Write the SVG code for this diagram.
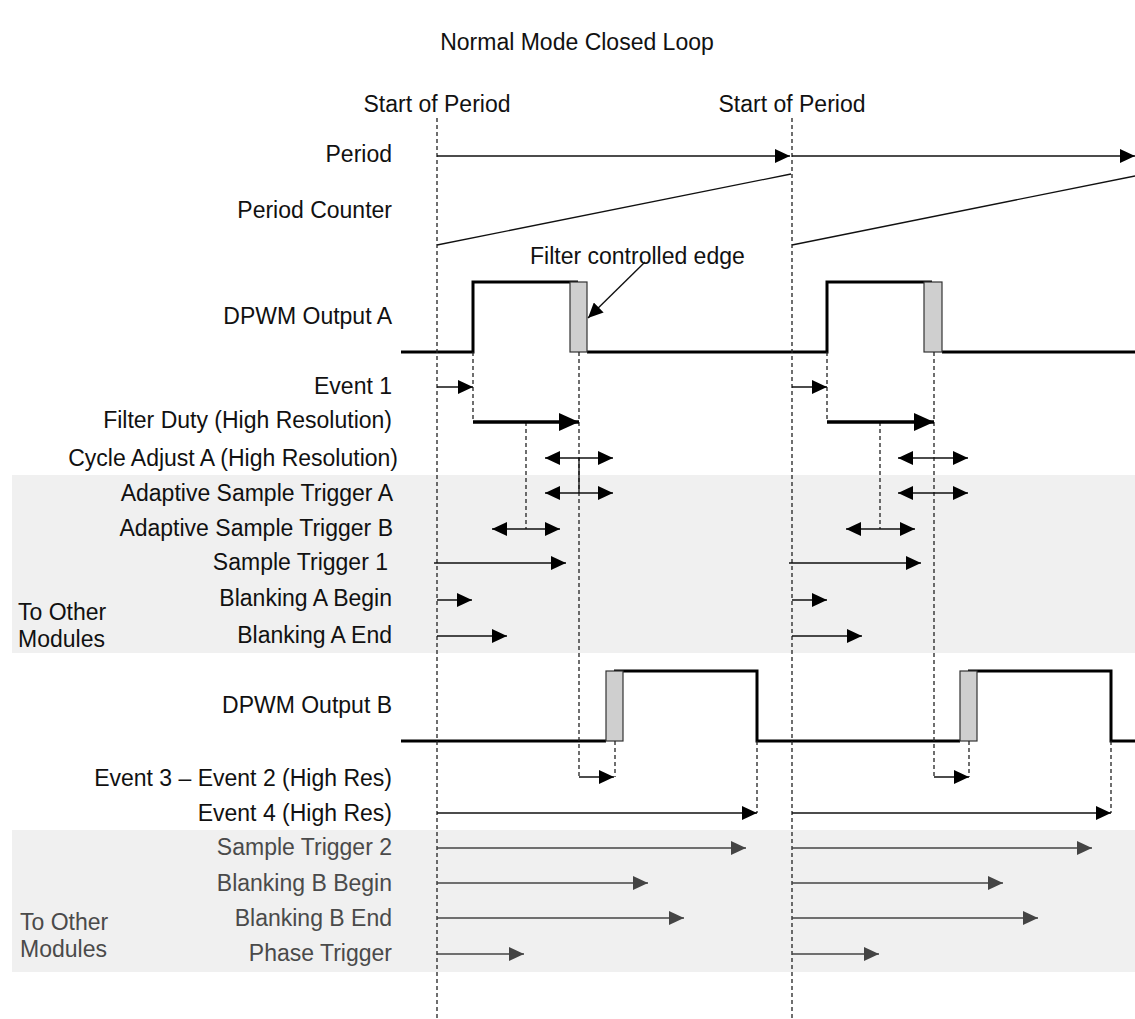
<svg xmlns="http://www.w3.org/2000/svg" width="1135" height="1019" viewBox="0 0 1135 1019">
<style>
text{font-family:"Liberation Sans",Arial,sans-serif;font-size:23px;fill:#111}
.r{text-anchor:end}
.g{fill:#4a4a4a}
.band{fill:#f0f0f0}
.dash{stroke:#222;stroke-width:1.3;stroke-dasharray:4 3;fill:none}
.thin{stroke:#111;stroke-width:1.3;fill:none}
.arr{stroke:#111;stroke-width:1.4;fill:none;marker-end:url(#ah)}
.dbl{stroke:#111;stroke-width:1.4;fill:none;marker-end:url(#ah);marker-start:url(#ah)}
.thick{stroke:#000;stroke-width:3.5;fill:none;marker-end:url(#ahb)}
.garr{stroke:#444;stroke-width:1.4;fill:none;marker-end:url(#ahg)}
.wave{stroke:#000;stroke-width:3;fill:none}
.edge{fill:#cfcfcf;stroke:#333;stroke-width:1.2}
</style>
<defs>
<marker id="ah" markerUnits="userSpaceOnUse" markerWidth="15" markerHeight="14" refX="15" refY="7" orient="auto-start-reverse"><path d="M0,0 L15,7 L0,14 z" fill="#000"/></marker>
<marker id="ahb" markerUnits="userSpaceOnUse" markerWidth="20" markerHeight="18" refX="20" refY="9" orient="auto"><path d="M0,0 L20,9 L0,18 z" fill="#000"/></marker>
<marker id="ahg" markerUnits="userSpaceOnUse" markerWidth="15" markerHeight="14" refX="15" refY="7" orient="auto"><path d="M0,0 L15,7 L0,14 z" fill="#444"/></marker>
</defs>
<rect width="1135" height="1019" fill="#fff"/>
<g id="bands">
<rect class="band" x="12" y="475" width="1123" height="178"/>
<rect class="band" x="12" y="830" width="1123" height="142"/>
</g>
<g id="title"><text x="577" y="50" text-anchor="middle">Normal Mode Closed Loop</text></g>
<g id="start-of-period">
<text x="437" y="112" text-anchor="middle">Start of Period</text>
<text x="792" y="112" text-anchor="middle">Start of Period</text>
</g>
<g id="labels">
<text class="r" x="392" y="162">Period</text>
<text class="r" x="392" y="218">Period Counter</text>
<text class="r" x="392" y="324">DPWM Output A</text>
<text class="r" x="392" y="394">Event 1</text>
<text class="r" x="392" y="428">Filter Duty (High Resolution)</text>
<text class="r" x="398" y="466">Cycle Adjust A (High Resolution)</text>
<text class="r" x="393" y="501">Adaptive Sample Trigger A</text>
<text class="r" x="393" y="536">Adaptive Sample Trigger B</text>
<text class="r" x="388" y="570">Sample Trigger 1</text>
<text class="r" x="392" y="606">Blanking A Begin</text>
<text class="r" x="392" y="643">Blanking A End</text>
<text x="18" y="620">To Other</text>
<text x="18" y="647">Modules</text>
<text class="r" x="392" y="713">DPWM Output B</text>
<text class="r" x="392" y="786">Event 3 – Event 2 (High Res)</text>
<text class="r" x="392" y="821">Event 4 (High Res)</text>
<text class="r g" x="392" y="855">Sample Trigger 2</text>
<text class="r g" x="392" y="891">Blanking B Begin</text>
<text class="r g" x="392" y="926">Blanking B End</text>
<text class="r g" x="392" y="961">Phase Trigger</text>
<text class="g" x="20" y="930">To Other</text>
<text class="g" x="20" y="957">Modules</text>
<text x="530" y="264">Filter controlled edge</text>
</g>
<g id="period-counter">
<line class="thin" x1="437" y1="245" x2="791" y2="174"/>
<line class="thin" x1="792" y1="245" x2="1135" y2="176"/>
</g>
<g id="dpwm-a">
<path class="wave" d="M401,352 H473 V282 H578 M587,352 H827 V282 H932 M942,352 H1135"/>
<rect class="edge" x="570" y="282" width="17" height="70"/>
<rect class="edge" x="924" y="282" width="18" height="70"/>
</g>
<g id="dpwm-b">
<path class="wave" d="M401,741 H606 M614,671 H757 V741 H960 M968,671 H1111 V741 H1135"/>
<rect class="edge" x="606" y="671" width="17" height="70"/>
<rect class="edge" x="960" y="671" width="17" height="70"/>
</g>
<g id="connectors">
<line class="dash" x1="437" y1="118" x2="437" y2="1019"/>
<line class="dash" x1="792" y1="118" x2="792" y2="1019"/>
<line class="dash" x1="473" y1="352" x2="473" y2="422"/>
<line class="dash" x1="579" y1="352" x2="579" y2="777"/>
<line class="dash" x1="526" y1="422" x2="526" y2="529"/>
<line class="dash" x1="827" y1="352" x2="827" y2="422"/>
<line class="dash" x1="934" y1="352" x2="934" y2="777"/>
<line class="dash" x1="880" y1="422" x2="880" y2="529"/>
<line class="dash" x1="615" y1="741" x2="615" y2="777"/>
<line class="dash" x1="969" y1="741" x2="969" y2="777"/>
<line class="dash" x1="757" y1="741" x2="757" y2="813"/>
<line class="dash" x1="1111" y1="741" x2="1111" y2="813"/>
<line class="thin" x1="579" y1="458" x2="579" y2="493"/>
<line class="arr" x1="437" y1="156" x2="790" y2="156"/>
<line class="arr" x1="792" y1="156" x2="1135" y2="156"/>
<line class="arr" x1="437" y1="387" x2="473" y2="387"/>
<line class="arr" x1="792" y1="387" x2="827" y2="387"/>
<line class="thick" x1="473" y1="422" x2="579" y2="422"/>
<line class="thick" x1="827" y1="422" x2="934" y2="422"/>
<line class="dbl" x1="545" y1="458" x2="613" y2="458"/>
<line class="dbl" x1="898" y1="458" x2="968" y2="458"/>
<line class="dbl" x1="545" y1="493" x2="613" y2="493"/>
<line class="dbl" x1="898" y1="493" x2="968" y2="493"/>
<line class="dbl" x1="492" y1="529" x2="560" y2="529"/>
<line class="dbl" x1="846" y1="529" x2="915" y2="529"/>
<line class="arr" x1="434" y1="563" x2="566" y2="563"/>
<line class="arr" x1="789" y1="563" x2="921" y2="563"/>
<line class="arr" x1="437" y1="600" x2="472" y2="600"/>
<line class="arr" x1="792" y1="600" x2="827" y2="600"/>
<line class="arr" x1="437" y1="636" x2="507" y2="636"/>
<line class="arr" x1="792" y1="636" x2="862" y2="636"/>
<line class="arr" x1="579" y1="777" x2="614" y2="777"/>
<line class="arr" x1="934" y1="777" x2="969" y2="777"/>
<line class="arr" x1="437" y1="813" x2="757" y2="813"/>
<line class="arr" x1="792" y1="813" x2="1111" y2="813"/>
<line class="garr" x1="437" y1="848" x2="746" y2="848"/>
<line class="garr" x1="792" y1="848" x2="1092" y2="848"/>
<line class="garr" x1="437" y1="883" x2="648" y2="883"/>
<line class="garr" x1="792" y1="883" x2="1003" y2="883"/>
<line class="garr" x1="437" y1="918" x2="684" y2="918"/>
<line class="garr" x1="792" y1="918" x2="1038" y2="918"/>
<line class="garr" x1="437" y1="954" x2="524" y2="954"/>
<line class="garr" x1="792" y1="954" x2="879" y2="954"/>
<line class="arr" x1="645" y1="262" x2="588" y2="318"/>
</g>
</svg>
